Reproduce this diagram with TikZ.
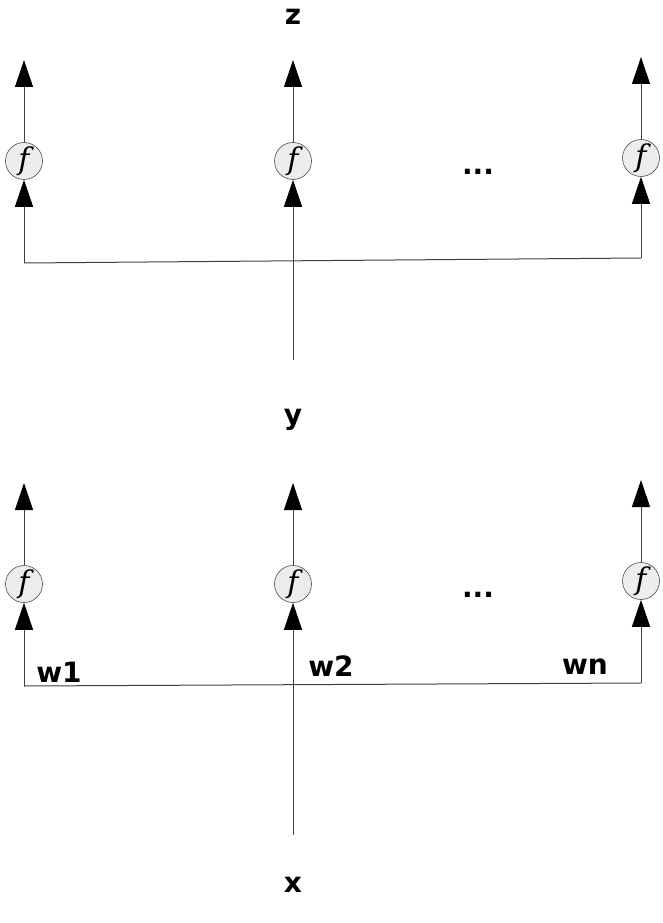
\documentclass[tikz,border=0pt]{standalone}
\usepackage{fontspec}
\setmainfont{DejaVu Sans}
\newfontfamily\ffont{DejaVu Serif}
\usetikzlibrary{arrows.meta}
\begin{document}
\begin{tikzpicture}[x=1pt,y=-1pt,
  fn/.style={circle,draw=black!70,fill=black!7,line width=0.6pt,minimum size=37pt,inner sep=0pt,font=\ffont\itshape\fontsize{30}{30}\selectfont},
  lbl/.style={font=\bfseries\fontsize{28}{28}\selectfont,inner sep=0pt},
  wire/.style={draw=black!75,line width=1pt},
  arr/.style={wire,-{Triangle[length=27pt,width=18pt,fill=black,color=black]}}]
\useasboundingbox (0,0) rectangle (662,923);
% top layer
\node[lbl] (z) at (293,17) {z};
\node[fn] (f1) at (24,161) {f};
\node[fn] (f2) at (293,161) {f};
\node[fn] (f3) at (641,158) {f};
\node[lbl,anchor=base] (dots1) at (478,174) {...};
\coordinate (t1) at (24,60);
\coordinate (t2) at (293,60);
\coordinate (t3) at (641,57);
\draw[arr] (f1.north) -- (t1);
\draw[arr] (f2.north) -- (t2);
\draw[arr] (f3.north) -- (t3);
\coordinate (c1) at (24,263);
\coordinate (c3) at (641,258);
\coordinate (m1) at (293,360);
\draw[arr] (c1) -- (f1.south);
\draw[arr] (c3) -- (f3.south);
\draw[arr] (m1) -- (f2.south);
\draw[wire] (c1) -- (c3);
% middle label
\node[lbl] (y) at (293,420) {y};
% bottom layer
\node[fn] (g1) at (24,584) {f};
\node[fn] (g2) at (293,584) {f};
\node[fn] (g3) at (641,581) {f};
\node[lbl,anchor=base] (dots2) at (478,597) {...};
\coordinate (s1) at (24,483);
\coordinate (s2) at (293,483);
\coordinate (s3) at (641,480);
\draw[arr] (g1.north) -- (s1);
\draw[arr] (g2.north) -- (s2);
\draw[arr] (g3.north) -- (s3);
\coordinate (d1) at (24,686);
\coordinate (d3) at (641,683);
\coordinate (m2) at (293,835);
\draw[arr] (d1) -- (g1.south);
\draw[arr] (d3) -- (g3.south);
\draw[arr] (m2) -- (g2.south);
\draw[wire] (d1) -- (d3);
\node[lbl] (w1) at (59,672) {w1};
\node[lbl] (w2) at (331,666) {w2};
\node[lbl] (wn) at (585,667) {wn};
\node[lbl] (x) at (293,885) {x};
\end{tikzpicture}
\end{document}
